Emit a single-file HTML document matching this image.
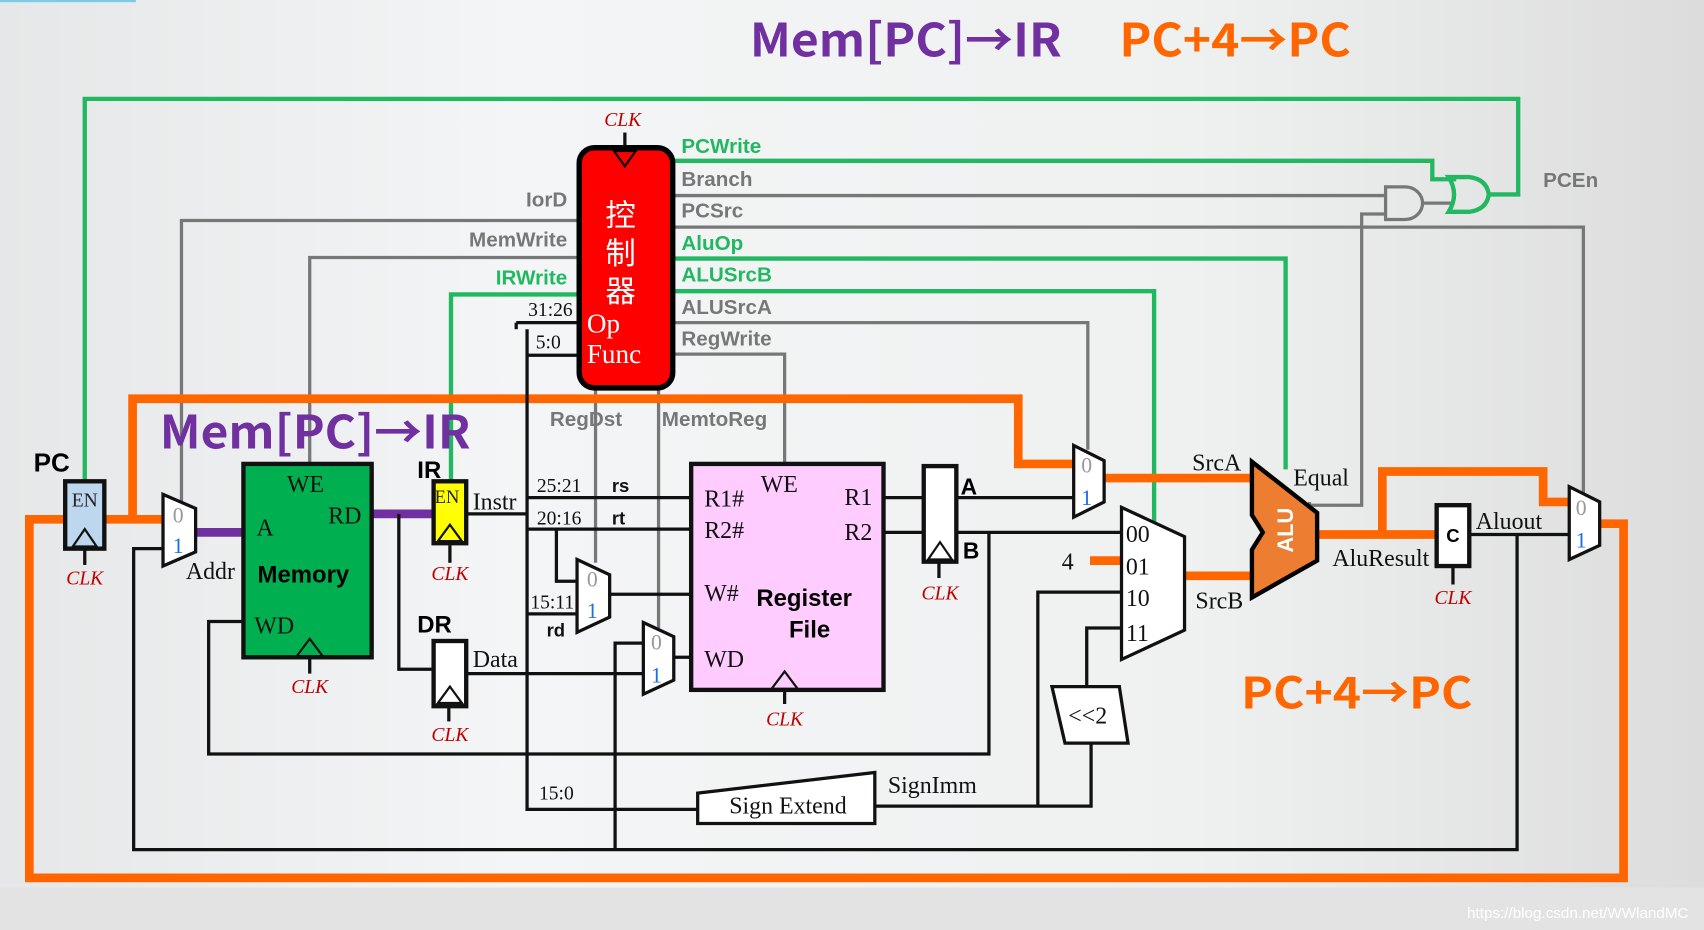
<!DOCTYPE html>
<html><head><meta charset="utf-8"><style>
html,body{margin:0;padding:0;width:1704px;height:930px;overflow:hidden;background:#e3e3e3}
svg{display:block}
.s{font-family:"Liberation Serif",serif}
.b{font-family:"Liberation Sans","Noto Sans CJK SC",sans-serif;font-weight:bold}
.t{font-family:"Noto Sans CJK SC",sans-serif;font-weight:bold}
.clk{font-family:"Liberation Serif",serif;font-style:italic;fill:#c00000;font-size:18px}
.g{fill:#777}
.gr{fill:#22b862}
</style></head><body>
<svg width="1704" height="930" viewBox="0 0 1568 856" preserveAspectRatio="none" xmlns="http://www.w3.org/2000/svg">
<defs>
<linearGradient id="bg" x1="0" y1="0" x2="1" y2="0">
<stop offset="0" stop-color="#e6e7e8"/><stop offset="0.3" stop-color="#f3f5f6"/><stop offset="0.7" stop-color="#eff1f1"/><stop offset="1" stop-color="#dcdcdc"/>
</linearGradient>
</defs>
<rect x="0" y="0" width="1568" height="817" fill="url(#bg)"/>
<rect x="0" y="817" width="1568" height="39" fill="#e3e3e3"/>
<rect x="0" y="0" width="125" height="2" fill="#7ec8e8"/>
<text x="1350" y="845" font-family="Liberation Sans,sans-serif" font-size="14" fill="#fff">https://blog.csdn.net/WWlandMC</text>

<!-- titles -->
<text x="690" y="52" class="t" font-size="42" fill="#7030a0" textLength="287" lengthAdjust="spacingAndGlyphs">Mem[PC]→IR</text>
<text x="1030" y="52" class="t" font-size="42" fill="#ff6600" textLength="213" lengthAdjust="spacingAndGlyphs">PC+4→PC</text>

<!-- green lines -->
<g fill="none" stroke="#22b862" stroke-width="4">
<polyline points="78,443 78,91 1397,91 1397,179 1368,179"/>
<polyline points="619,148 1318,148 1318,165 1340,165"/>
<polyline points="619,238 1183,238 1183,432"/>
<polyline points="619,268 1062,268 1062,482"/>
<polyline points="533,271 415,271 415,443"/>
</g>
<!-- gray lines -->
<g fill="none" stroke="#777" stroke-width="3">
<polyline points="619,180 1275,180"/>
<polyline points="619,209 1457,209 1457,455"/>
<polyline points="619,297 1001,297 1001,414"/>
<polyline points="619,326 722,326 722,428"/>
<polyline points="533,203 167,203 167,462"/>
<polyline points="533,237 285,237 285,428"/>
<polyline points="548,357 548,518"/>
<polyline points="606,357 606,578"/>
<polyline points="1205,462 1205,465 1253,465 1253,197 1275,197"/>
<polyline points="1308,187 1338,187"/>
</g>
<!-- AND gate -->
<path d="M1275,172 L1293,172 A16,15 0 0 1 1293,202 L1275,202 Z" fill="none" stroke="#777" stroke-width="3"/>
<!-- OR gate -->
<path d="M1333,163 L1352,163 Q1368,165 1370,179 Q1368,193 1352,195 L1333,195 Q1343,179 1333,163 Z" fill="none" stroke="#22b862" stroke-width="4"/>
<text x="1420" y="172" class="b g" font-size="19">PCEn</text>

<!-- controller labels -->
<g class="b" font-size="19">
<text x="627" y="141" class="gr">PCWrite</text>
<text x="627" y="171" class="g">Branch</text>
<text x="627" y="200" class="g">PCSrc</text>
<text x="627" y="230" class="gr">AluOp</text>
<text x="627" y="259" class="gr">ALUSrcB</text>
<text x="627" y="289" class="g">ALUSrcA</text>
<text x="627" y="318" class="g">RegWrite</text>
<text x="522" y="190" class="g" text-anchor="end">IorD</text>
<text x="522" y="227" class="g" text-anchor="end">MemWrite</text>
<text x="522" y="262" class="gr" text-anchor="end">IRWrite</text>
<text x="506" y="392" class="g">RegDst</text>
<text x="609" y="392" class="g">MemtoReg</text>
</g>

<!-- orange paths -->
<g fill="none" stroke="#ff6600" stroke-width="8">
<polyline points="1472,482 1494,482 1494,808 27,808 27,478 60,478"/>
<polyline points="96,478 150,478"/>
<polyline points="122,478 122,367 937,367 937,427 990,427"/>
<polyline points="1016,440 1152,440"/>
<polyline points="1003,516 1032,516"/>
<polyline points="1090,530 1152,530"/>
<polyline points="1212,492 1322,492"/>
<polyline points="1272,492 1272,434 1420,434 1420,462 1444,462"/>
</g>
<!-- purple -->
<g fill="none" stroke="#7030a0" stroke-width="8">
<line x1="180" y1="490" x2="224" y2="490"/>
<line x1="342" y1="473" x2="398" y2="473"/>
</g>

<text x="147" y="413" class="t" font-size="42" fill="#7030a0" textLength="286" lengthAdjust="spacingAndGlyphs">Mem[PC]→IR</text>
<text x="1142" y="652" class="t" font-size="40" fill="#ff6600" textLength="213" lengthAdjust="spacingAndGlyphs">PC+4→PC</text>

<!-- black wires -->
<g fill="none" stroke="#111" stroke-width="3">
<polyline points="430,473 485,473"/>
<polyline points="475,297 533,297"/>
<polyline points="475,297 475,303"/>
<polyline points="485,327 533,327"/>
<polyline points="485,303 485,745 642,745"/>
<polyline points="485,458 636,458"/>
<polyline points="485,487 636,487"/>
<polyline points="512,487 512,535 531,535"/>
<polyline points="485,565 531,565"/>
<polyline points="561,547 636,547"/>
<polyline points="367,473 367,616 398,616"/>
<polyline points="428,620 592,620"/>
<polyline points="566,782 566,592 592,592"/>
<polyline points="620,605 636,605"/>
<polyline points="224,572 192,572 192,694 910,694 910,490"/>
<polyline points="813,458 850,458"/>
<polyline points="813,490 850,490"/>
<polyline points="880,458 990,458"/>
<polyline points="880,490 1032,490"/>
<polyline points="150,505 123,505 123,782 1396,782 1396,492"/>
<polyline points="1352,492 1444,492"/>
<polyline points="805,742 1004,742 1004,684"/>
<polyline points="955,742 955,545 1032,545"/>
<polyline points="1000,632 1000,578 1032,578"/>
<polyline points="78,505 78,520"/>
<polyline points="414,502 414,518"/>
<polyline points="285,600 285,620"/>
<polyline points="413,650 413,664"/>
<polyline points="722,632 722,648"/>
<polyline points="864,517 864,532"/>
<polyline points="1337,521 1337,538"/>
<polyline points="575,122 575,136"/>
</g>

<!-- controller -->
<rect x="533" y="136" width="86" height="221" rx="14" fill="#ff0000" stroke="#000" stroke-width="5"/>
<polygon points="565,139 585,139 575,153" fill="#ff0000" stroke="#000" stroke-width="2"/>
<text x="573" y="116" class="clk" text-anchor="middle">CLK</text>
<g fill="#fff" font-family="'Noto Sans CJK SC',sans-serif" font-size="28" text-anchor="middle">
<text x="571" y="208">控</text><text x="571" y="243">制</text><text x="571" y="278">器</text>
</g>
<text x="540" y="306" class="s" font-size="25" fill="#fff">Op</text>
<text x="540" y="334" class="s" font-size="25" fill="#fff">Func</text>
<g class="s" font-size="18" fill="#111">
<text x="486" y="291">31:26</text>
<text x="493" y="321">5:0</text>
<text x="494" y="453">25:21</text>
<text x="494" y="483">20:16</text>
<text x="488" y="560">15:11</text>
<text x="496" y="736">15:0</text>
</g>
<g class="b" font-size="17" fill="#111">
<text x="563" y="453">rs</text><text x="563" y="483">rt</text><text x="503" y="586">rd</text>
</g>

<!-- PC reg -->
<rect x="60" y="443" width="36" height="62" fill="#bdd7ee" stroke="#111" stroke-width="4"/>
<polygon points="67,503 78,487 89,503" fill="none" stroke="#111" stroke-width="2"/>
<text x="66" y="466" class="s" font-size="18" fill="#222">EN</text>
<text x="31" y="434" class="b" font-size="24" fill="#000">PC</text>
<text x="78" y="538" class="clk" text-anchor="middle">CLK</text>

<!-- PC mux -->
<polygon points="150,455 180,468 180,508 150,521" fill="#fff" stroke="#111" stroke-width="3"/>
<text x="159" y="481" class="s" font-size="20" fill="#999">0</text>
<text x="159" y="509" class="s" font-size="20" fill="#1a6ee8">1</text>
<text x="171" y="533" class="s" font-size="22" fill="#111">Addr</text>

<!-- Memory -->
<rect x="224" y="427" width="118" height="178" fill="#00b050" stroke="#111" stroke-width="4"/>
<g class="s" font-size="22" fill="#111">
<text x="264" y="453">WE</text><text x="236" y="493">A</text><text x="302" y="482">RD</text><text x="234" y="583">WD</text>
</g>
<text x="237" y="536" class="b" font-size="22" fill="#000">Memory</text>
<polygon points="273,604 285,588 297,604" fill="none" stroke="#111" stroke-width="2"/>
<text x="285" y="638" class="clk" text-anchor="middle">CLK</text>

<!-- IR -->
<rect x="399" y="443" width="30" height="57" fill="#ffff00" stroke="#111" stroke-width="4"/>
<polygon points="403,498 414,483 425,498" fill="none" stroke="#111" stroke-width="2"/>
<text x="400" y="463" class="s" font-size="17" fill="#222">EN</text>
<text x="384" y="440" class="b" font-size="22" fill="#000">IR</text>
<text x="435" y="469" class="s" font-size="22" fill="#111">Instr</text>
<text x="414" y="534" class="clk" text-anchor="middle">CLK</text>

<!-- DR -->
<rect x="399" y="590" width="30" height="60" fill="#fff" stroke="#111" stroke-width="4"/>
<polygon points="403,647 414,632 425,647" fill="none" stroke="#111" stroke-width="2"/>
<text x="384" y="582" class="b" font-size="22" fill="#000">DR</text>
<text x="435" y="614" class="s" font-size="22" fill="#111">Data</text>
<text x="414" y="682" class="clk" text-anchor="middle">CLK</text>

<!-- regdst mux -->
<polygon points="531,515 561,529 561,568 531,582" fill="#fff" stroke="#111" stroke-width="3"/>
<text x="540" y="540" class="s" font-size="20" fill="#999">0</text>
<text x="540" y="569" class="s" font-size="20" fill="#1a6ee8">1</text>
<!-- memtoreg mux -->
<polygon points="592,573 620,586 620,626 592,639" fill="#fff" stroke="#111" stroke-width="3"/>
<text x="599" y="598" class="s" font-size="20" fill="#999">0</text>
<text x="599" y="628" class="s" font-size="20" fill="#1a6ee8">1</text>

<!-- Register file -->
<rect x="636" y="427" width="177" height="208" fill="#ffccff" stroke="#111" stroke-width="4"/>
<g class="s" font-size="22" fill="#111">
<text x="648" y="466">R1#</text><text x="648" y="495">R2#</text><text x="700" y="453">WE</text>
<text x="777" y="465">R1</text><text x="777" y="497">R2</text><text x="648" y="553">W#</text><text x="648" y="614">WD</text>
</g>
<text x="696" y="558" class="b" font-size="22" fill="#000">Register</text>
<text x="726" y="587" class="b" font-size="22" fill="#000">File</text>
<polygon points="710,634 722,618 734,634" fill="none" stroke="#111" stroke-width="2"/>
<text x="722" y="668" class="clk" text-anchor="middle">CLK</text>

<!-- A/B reg -->
<rect x="850" y="429" width="30" height="88" fill="#fff" stroke="#111" stroke-width="4"/>
<polygon points="854,515 865,499 876,515" fill="none" stroke="#111" stroke-width="2"/>
<text x="884" y="455" class="b" font-size="21" fill="#000">A</text>
<text x="886" y="514" class="b" font-size="21" fill="#000">B</text>
<text x="865" y="552" class="clk" text-anchor="middle">CLK</text>

<!-- srcA mux -->
<polygon points="988,410 1016,424 1016,462 988,476" fill="#fff" stroke="#111" stroke-width="3"/>
<text x="995" y="435" class="s" font-size="20" fill="#999">0</text>
<text x="995" y="465" class="s" font-size="20" fill="#1a6ee8">1</text>

<!-- srcB mux -->
<polygon points="1032,467 1090,494 1090,580 1032,607" fill="#fff" stroke="#111" stroke-width="3"/>
<g class="s" font-size="22" fill="#111">
<text x="1036" y="499">00</text><text x="1036" y="529">01</text><text x="1036" y="558">10</text><text x="1036" y="590">11</text>
<text x="977" y="524">4</text>
<text x="1097" y="433">SrcA</text><text x="1100" y="560">SrcB</text>
<text x="1190" y="447">Equal</text><text x="1226" y="521">AluResult</text>
<text x="1358" y="487">Aluout</text>
<text x="817" y="730">SignImm</text>
</g>

<!-- ALU -->
<polygon points="1152,425 1212,472 1212,516 1152,550 1152,506 1162,490 1152,474" fill="#ed7d31" stroke="#000" stroke-width="4"/>
<text transform="translate(1190,488) rotate(-90)" class="b" font-size="20" fill="#fff" text-anchor="middle">ALU</text>

<!-- C reg -->
<rect x="1322" y="465" width="30" height="56" fill="#fff" stroke="#111" stroke-width="4"/>
<text x="1337" y="499" class="b" font-size="17" fill="#000" text-anchor="middle">C</text>
<text x="1337" y="556" class="clk" text-anchor="middle">CLK</text>

<!-- final mux -->
<polygon points="1444,448 1472,462 1472,502 1444,515" fill="#fff" stroke="#111" stroke-width="3"/>
<text x="1450" y="474" class="s" font-size="20" fill="#999">0</text>
<text x="1450" y="504" class="s" font-size="20" fill="#1a6ee8">1</text>

<!-- <<2 -->
<polygon points="968,632 1030,632 1038,684 980,684" fill="#fff" stroke="#111" stroke-width="3"/>
<text x="983" y="666" class="s" font-size="22" fill="#111">&lt;&lt;2</text>

<!-- sign extend -->
<polygon points="642,730 805,711 805,758 642,758" fill="#fff" stroke="#111" stroke-width="3"/>
<text x="671" y="749" class="s" font-size="22" fill="#111">Sign Extend</text>
</svg>
</body></html>
